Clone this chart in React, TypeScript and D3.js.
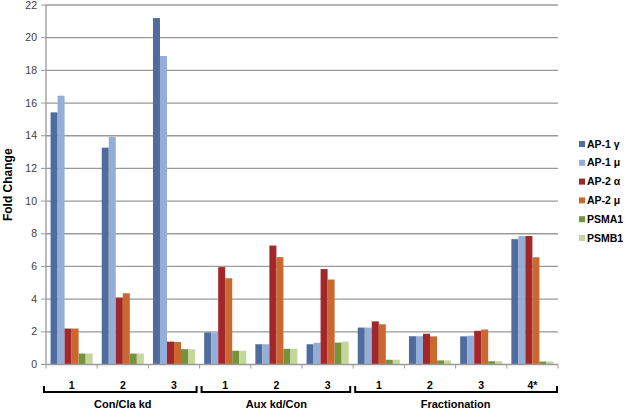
import React from "react";
import * as d3 from "d3";

const groups = ["Con/Cla kd", "Aux kd/Con", "Fractionation"];
const categories = ["1", "2", "3", "1", "2", "3", "1", "2", "3", "4*"];
const categoryGroup = [0, 0, 0, 1, 1, 1, 2, 2, 2, 2];
const seriesNames = ["AP-1 γ", "AP-1 μ", "AP-2 α", "AP-2 μ", "PSMA1", "PSMB1"];
const seriesColors = ["#4F6C9E", "#95AED8", "#A3262A", "#C9692F", "#76923C", "#C4D79B"];
const ap1g = [15.43, 13.27, 21.2, 1.96, 1.24, 1.24, 2.26, 1.73, 1.72, 7.67];
const ap1m = [16.45, 13.93, 18.88, 1.96, 1.24, 1.33, 2.26, 1.73, 1.76, 7.86];
const ap2a = [2.2, 4.1, 1.4, 5.96, 7.28, 5.84, 2.64, 1.88, 2.06, 7.86];
const ap2m = [2.2, 4.36, 1.38, 5.28, 6.57, 5.2, 2.46, 1.72, 2.14, 6.56];
const psma1 = [0.67, 0.67, 0.94, 0.84, 0.96, 1.34, 0.29, 0.25, 0.2, 0.18];
const psmb1 = [0.67, 0.67, 0.93, 0.84, 0.96, 1.4, 0.29, 0.25, 0.2, 0.18];
const yTicks = [0, 2, 4, 6, 8, 10, 12, 14, 16, 18, 20, 22];

const values = [ap1g, ap1m, ap2a, ap2m, psma1, psmb1];

const W = 625;
const H = 410;
const left = 46;
const right = 558;
const top = 5;
const bottom = 364.5;

export default function App() {
  const idx = categories.map((_, i) => i);
  const x = d3.scaleBand<number>().domain(idx).range([left, right]).paddingInner(0).paddingOuter(0);
  const y = d3.scaleLinear().domain([0, 22]).range([bottom, top]);
  const inner = d3
    .scaleBand<number>()
    .domain(d3.range(seriesNames.length))
    .range([0, x.bandwidth()])
    .paddingOuter(0.65)
    .paddingInner(0);

  const font = "'Liberation Sans', Arial, sans-serif";
  const bw = x.bandwidth();

  return (
    <svg
      width={W}
      height={H}
      style={{ position: "absolute", left: 0, top: 0, background: "#fff" }}
      fontFamily={font}
    >
      {/* gridlines */}
      {yTicks.map((t) =>
        t === 0 ? null : (
          <line key={"g" + t} x1={left} x2={right} y1={y(t)} y2={y(t)} stroke="#9A9A9A" strokeWidth={1.3} />
        )
      )}
      {/* y axis */}
      <line x1={left} x2={left} y1={top} y2={bottom} stroke="#9A9A9A" strokeWidth={1.3} />
      {yTicks.map((t) => (
        <g key={"t" + t}>
          <line x1={left - 5} x2={left} y1={y(t)} y2={y(t)} stroke="#9A9A9A" strokeWidth={1} />
          <text x={left - 9} y={y(t) + 3.6} textAnchor="end" fontSize={10.5} fill="#404040">
            {t}
          </text>
        </g>
      ))}
      <text
        transform={`translate(12,${(top + bottom) / 2}) rotate(-90)`}
        textAnchor="middle"
        fontSize={12}
        fontWeight="bold"
        fill="#000"
      >
        Fold Change
      </text>
      {/* bars */}
      {values.map((vals, s) =>
        vals.map((v, i) => (
          <rect
            key={`b${s}-${i}`}
            x={(x(i) as number) + (inner(s) as number)}
            y={y(v)}
            width={inner.bandwidth()}
            height={bottom - y(v)}
            fill={seriesColors[s]}
          />
        ))
      )}
      {/* x axis */}
      <line x1={left} x2={right} y1={bottom} y2={bottom} stroke="#9A9A9A" strokeWidth={1.3} />
      {d3.range(categories.length + 1).map((i) => (
        <line
          key={"xt" + i}
          x1={left + i * bw}
          x2={left + i * bw}
          y1={bottom}
          y2={bottom + 4}
          stroke="#9A9A9A"
          strokeWidth={1}
        />
      ))}
      {categories.map((c, i) => (
        <text
          key={"xl" + i}
          x={(x(i) as number) + bw / 2}
          y={385}
          dy="0.35em"
          textAnchor="middle"
          fontSize={10.5}
          fontWeight="bold"
          fill="#000"
        >
          {c}
        </text>
      ))}
      {/* group brackets */}
      {groups.map((g, gi) => {
        const members = idx.filter((i) => categoryGroup[i] === gi);
        const x0 = x(members[0]) as number;
        const x1 = (x(members[members.length - 1]) as number) + bw;
        const sx = gi === 0 ? x0 - 2 : x0 + 2;
        const ex = gi === groups.length - 1 ? x1 - 1 : x1 - 3;
        return (
          <g key={"grp" + gi}>
            <path
              d={`M${sx},386 V392 H${ex} V386`}
              fill="none"
              stroke="#000"
              strokeWidth={2}
            />
            <text
              x={(x0 + x1) / 2}
              y={404}
              dy="0.35em"
              textAnchor="middle"
              fontSize={11}
              fontWeight="bold"
              fill="#000"
            >
              {g}
            </text>
          </g>
        );
      })}
      {/* legend */}
      {seriesNames.map((n, s) => {
        const ly = 144 + s * 18.8;
        return (
          <g key={"lg" + s}>
            <rect x={579} y={ly - 3} width={6} height={6} fill={seriesColors[s]} />
            <text x={587} y={ly} dy="0.35em" fontSize={10.5} fontWeight="bold" fill="#000">
              {n}
            </text>
          </g>
        );
      })}
    </svg>
  );
}
